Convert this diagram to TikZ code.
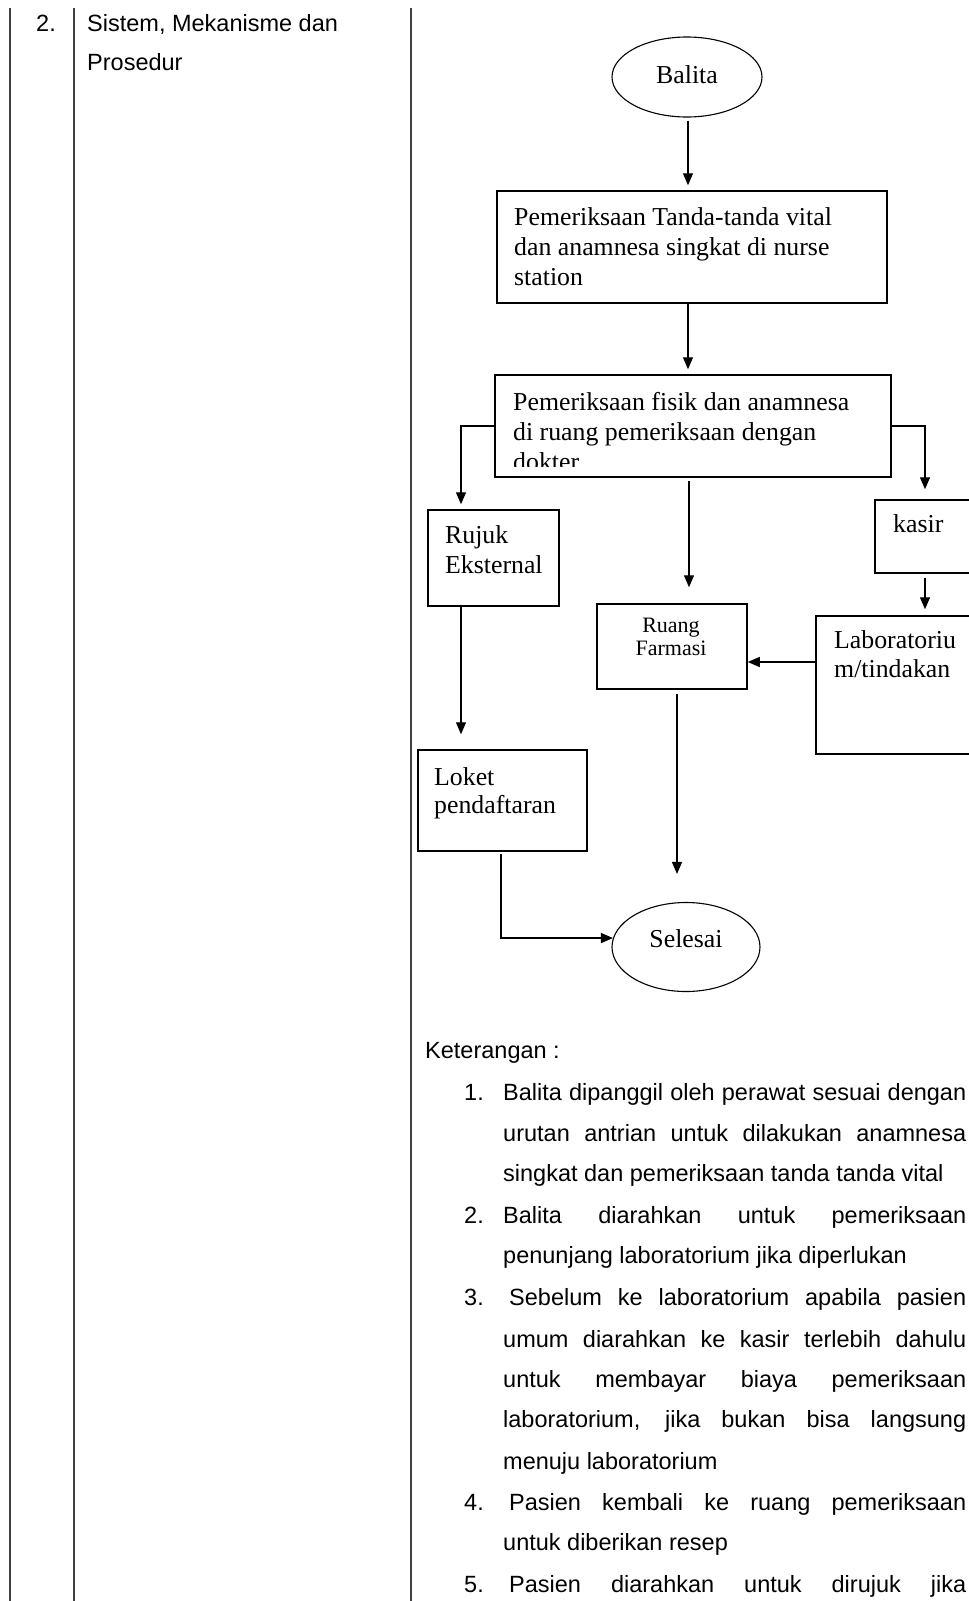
\documentclass[tikz,border=0pt]{standalone}
\usepackage{fontspec}
\setmainfont{Liberation Serif}
\newfontfamily\arialf{Liberation Sans}
\usetikzlibrary{arrows.meta,shapes.geometric,calc}
\begin{document}
\begin{tikzpicture}[x=1pt,y=-1pt,
  tline/.style={line width=1.8pt, draw=black!75},
  box/.style={draw, line width=1.5pt, rectangle, inner sep=0pt},
  oval/.style={draw, ellipse, line width=1.1pt, inner sep=0pt},
  ftext/.style={anchor=base west, inner sep=0pt, font=\fontsize{25.8}{30}\selectfont},
  ftextc/.style={anchor=base, inner sep=0pt, font=\fontsize{25.8}{30}\selectfont},
  smtext/.style={anchor=base, inner sep=0pt, font=\fontsize{22}{25}\selectfont},
  body/.style={anchor=base west, inner sep=0pt, font=\arialf\fontsize{23.5}{28}\selectfont},
  arr/.style={line width=1.3pt, -{Triangle[length=12pt,width=10pt]}}]
\useasboundingbox (0,0) rectangle (969,1601);
\clip (0,0) rectangle (969,1601);
\fill[white] (0,0) rectangle (969,1601);

% table rules
\draw[tline] (10,8) -- (10,1601);
\draw[tline] (74,8) -- (74,1601);
\draw[tline] (411,8) -- (411,1601);

% left column
\node[body] (num) at (36,31) {2.};
\node[body] (hd1) at (87,31) {Sistem, Mekanisme dan};
\node[body] (hd2) at (87,70) {Prosedur};

% flowchart shapes
\node[oval, minimum width=150pt, minimum height=80pt] (bal) at (687,77) {};
\node[ftextc] (balt) at (687,83) {Balita};

\node[box, minimum width=390pt, minimum height=112pt] (b1) at (692,247) {};
\node[ftext] (b1a) at (514,225) {Pemeriksaan Tanda-tanda vital};
\node[ftext] (b1b) at (514,255) {dan anamnesa singkat di nurse};
\node[ftext] (b1c) at (514,285) {station};

\node[box, minimum width=396pt, minimum height=102pt] (b2) at (693,426) {};
\begin{scope}
  \clip (497,377) rectangle (889,466);
  \node[ftext] (b2a) at (513,410) {Pemeriksaan fisik dan anamnesa};
  \node[ftext] (b2b) at (513,440) {di ruang pemeriksaan dengan};
  \node[ftext] (b2c) at (513,470) {dokter};
\end{scope}

\node[box, minimum width=131pt, minimum height=96pt] (rj) at (493.5,558) {};
\node[ftext] (rja) at (445,543) {Rujuk};
\node[ftext] (rjb) at (445,573) {Eksternal};

\node[box, minimum width=115pt, minimum height=73pt] (ks) at (932.5,536.5) {};
\node[ftext] (ksa) at (893,532) {kasir};

\node[box, minimum width=174pt, minimum height=138pt] (lab) at (903,685) {};
\node[ftext] (laba) at (834,648) {Laboratoriu};
\node[ftext] (labb) at (834,677) {m/tindakan};

\node[box, minimum width=150pt, minimum height=85pt] (farm) at (672,646.5) {};
\node[smtext] (farma) at (671,632) {Ruang};
\node[smtext] (farmb) at (671,655) {Farmasi};

\node[box, minimum width=169pt, minimum height=101pt] (lk) at (502.5,800.5) {};
\node[ftext] (lka) at (434,785) {Loket};
\node[ftext] (lkb) at (434,813) {pendaftaran};

\node[oval, minimum width=148pt, minimum height=89pt] (sel) at (686,947) {};
\node[ftextc] (selt) at (686,947) {Selesai};

% connector columns / rows
\coordinate (cA) at (688,0);
\coordinate (cM) at (689,0);
\coordinate (cL) at (461,0);
\coordinate (cR) at (925,0);
\coordinate (cY) at (0,662);
\coordinate (cF) at (677,0);
\coordinate (cB) at (501,0);

\draw[arr, shorten <=3pt, shorten >=5pt] (cA |- bal.south) -- (cA |- b1.north);
\draw[arr, shorten >=5pt] (cA |- b1.south) -- (cA |- b2.north);
\draw[arr, shorten <=3pt, shorten >=16pt] (cM |- b2.south) -- (cM |- farm.north);
\draw[arr, shorten >=5pt] (b2.west) -| (cL |- rj.north);
\draw[arr, shorten >=10pt] (b2.east) -| (cR |- ks.north);
\draw[arr, shorten <=4pt, shorten >=6pt] (cR |- ks.south) -- (cR |- lab.north);
\draw[arr] (lab.west |- cY) -- (farm.east |- cY);
\draw[arr, shorten <=4pt, shorten >=28pt] (cF |- farm.south) -- (cF |- sel.north);
\draw[arr, shorten >=15pt] (cL |- rj.south) -- (cL |- lk.north);
\draw[arr, shorten <=2pt] (cB |- lk.south) |- (sel.173);

% Keterangan
\node[body] (ket) at (425,1058) {Keterangan :};
\node[body] (n1) at (464,1100) {1.};
\node[body] (l1a) at (503,1100) {\makebox[463pt][s]{Balita dipanggil oleh perawat sesuai dengan}};
\node[body] (l1b) at (503,1141) {\makebox[463pt][s]{urutan antrian untuk dilakukan anamnesa}};
\node[body] (l1c) at (503,1181) {singkat dan pemeriksaan tanda tanda vital};
\node[body] (n2) at (464,1223) {2.};
\node[body] (l2a) at (503,1223) {\makebox[463pt][s]{Balita diarahkan untuk pemeriksaan}};
\node[body] (l2b) at (503,1263) {penunjang laboratorium jika diperlukan};
\node[body] (n3) at (464,1305) {3.};
\node[body] (l3a) at (509,1305) {\makebox[457pt][s]{Sebelum ke laboratorium apabila pasien}};
\node[body] (l3b) at (503,1347) {\makebox[463pt][s]{umum diarahkan ke kasir terlebih dahulu}};
\node[body] (l3c) at (503,1387) {\makebox[463pt][s]{untuk membayar biaya pemeriksaan}};
\node[body] (l3d) at (503,1427) {\makebox[463pt][s]{laboratorium, jika bukan bisa langsung}};
\node[body] (l3e) at (503,1469) {menuju laboratorium};
\node[body] (n4) at (464,1510) {4.};
\node[body] (l4a) at (509,1510) {\makebox[457pt][s]{Pasien kembali ke ruang pemeriksaan}};
\node[body] (l4b) at (503,1550) {untuk diberikan resep};
\node[body] (n5) at (464,1592) {5.};
\node[body] (l5a) at (509,1592) {\makebox[457pt][s]{Pasien diarahkan untuk dirujuk jika}};
\end{tikzpicture}
\end{document}
